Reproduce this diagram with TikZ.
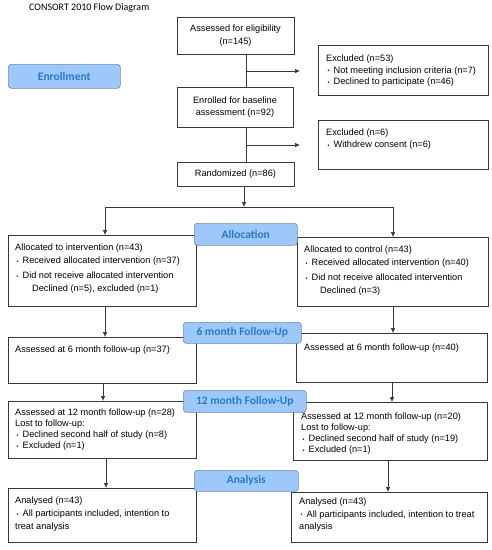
\documentclass[tikz,border=0pt]{standalone}
\usepackage{fontspec}
\setmainfont{Liberation Sans}
\newfontfamily\calibrifont{Carlito}
\usetikzlibrary{arrows.meta}
\definecolor{lblfill}{RGB}{157,200,249}
\definecolor{lbldraw}{RGB}{115,135,165}
\definecolor{lbltext}{RGB}{40,122,198}
\definecolor{boxdraw}{RGB}{55,55,55}
\newcommand{\mybul}{\hspace*{1.5pt}{\fontsize{5.5}{5.5}\selectfont\raisebox{0.8pt}{•}}\hspace{4pt}}
\tikzset{
  box/.style={draw=boxdraw, line width=0.7pt, fill=white, inner sep=0pt, outer sep=0pt, anchor=north west},
  lbl/.style={draw=lbldraw, fill=lblfill, rounded corners=3pt, line width=0.6pt, inner sep=0pt, anchor=north west},
  lbltxt/.style={text=lbltext, font=\calibrifont\bfseries\fontsize{11.5}{13}\selectfont, inner sep=0pt},
  txt/.style={inner sep=0pt, anchor=north west, align=left},
  ctxt/.style={inner sep=0pt, align=center, font=\fontsize{9.2}{12.5}\selectfont},
  arr/.style={-{Latex[length=5pt,width=4.5pt]}, line width=0.7pt, draw=boxdraw},
  ln/.style={line width=0.7pt, draw=boxdraw},
}
\begin{document}
\begin{tikzpicture}[x=1pt,y=-1pt]
\useasboundingbox (0,0) rectangle (492,550);
% title
\node[inner sep=0pt, anchor=west, font=\calibrifont\fontsize{10}{12}\selectfont] (title) at (29,8) {CONSORT 2010 Flow Diagram};
% boxes
\node[box, minimum width=117, minimum height=37] (assessed) at (177,17) {};
\node[ctxt] (assessedt) at (assessed.center) {Assessed for eligibility\\(n=145)};
\node[box, minimum width=170, minimum height=50] (excl1) at (318,45) {};
\node[txt, font=\fontsize{9.2}{11.5}\selectfont] (excl1t) at (326,55) {Excluded (n=53)\\\mybul Not meeting inclusion criteria (n=7)\\\mybul Declined to participate (n=46)};
\node[box, minimum width=116, minimum height=40] (enrolled) at (177,87) {};
\node[ctxt] (enrolledt) at (enrolled.center) {Enrolled for baseline\\assessment (n=92)};
\node[box, minimum width=170, minimum height=49] (excl2) at (318,120) {};
\node[txt, font=\fontsize{9.2}{12}\selectfont] (excl2t) at (326,129) {Excluded (n=6)\\\mybul Withdrew consent (n=6)};
\node[box, minimum width=117, minimum height=24] (random) at (177,162) {};
\node[ctxt] (randomt) at (random.center) {Randomized (n=86)};
% allocation
\node[box, minimum width=188, minimum height=71] (allocL) at (8,235) {};
\node[txt, font=\fontsize{9.2}{13}\selectfont] (allocLt) at (15,244) {Allocated to intervention (n=43)\\\mybul Received allocated intervention (n=37)\\[2pt]\mybul Did not receive allocated intervention\\\hspace*{17pt}Declined (n=5), excluded (n=1)};
\node[box, minimum width=191, minimum height=69] (allocR) at (297,237) {};
\node[txt, font=\fontsize{9.2}{13}\selectfont] (allocRt) at (304,246) {Allocated to control (n=43)\\\mybul Received allocated intervention (n=40)\\[2pt]\mybul Did not receive allocated intervention\\\hspace*{16pt}Declined (n=3)};
% 6 month
\node[box, minimum width=188, minimum height=46] (sixL) at (8,337) {};
\node[txt, font=\fontsize{9.2}{12}\selectfont] (sixLt) at (15,346) {Assessed at 6 month follow-up (n=37)};
\node[box, minimum width=191, minimum height=49] (sixR) at (296,333) {};
\node[txt, font=\fontsize{9.2}{12}\selectfont] (sixRt) at (304,344) {Assessed at 6 month follow-up (n=40)};
% 12 month
\node[box, minimum width=188, minimum height=57] (twL) at (8,401) {};
\node[txt, font=\fontsize{9.2}{11}\selectfont] (twLt) at (15,409) {Assessed at 12 month follow-up (n=28)\\Lost to follow-up:\\\mybul Declined second half of study (n=8)\\\mybul Excluded (n=1)};
\node[box, minimum width=194, minimum height=58] (twR) at (293,402) {};
\node[txt, font=\fontsize{9.2}{11}\selectfont] (twRt) at (301,413) {Assessed at 12 month follow-up (n=20)\\Lost to follow-up:\\\mybul Declined second half of study (n=19)\\\mybul Excluded (n=1)};
% analysis
\node[box, minimum width=188, minimum height=54] (anL) at (8,488) {};
\node[txt, font=\fontsize{9.2}{13}\selectfont] (anLt) at (15,497) {Analysed (n=43)\\\mybul All participants included, intention to\\treat analysis};
\node[box, minimum width=196, minimum height=50] (anR) at (291,492) {};
\node[txt, font=\fontsize{9.2}{12.5}\selectfont] (anRt) at (299,498) {Analysed (n=43)\\\mybul All participants included, intention to treat\\analysis};
% connectors
\coordinate (v1) at (246,0);
\coordinate (ex1end) at (300,71);
\coordinate (ex2end) at (300,145);
\coordinate (rv) at (244,207);
\coordinate (hl) at (105,207);
\coordinate (hr) at (393,207);
\draw[ln] (assessed.south -| v1) -- (enrolled.north -| v1);
\draw[arr] (ex1end -| v1) -- (ex1end);
\draw[ln] (enrolled.south -| v1) -- (random.north -| v1);
\draw[arr] (ex2end -| v1) -- (ex2end);
\draw[arr] (random.south -| rv) -- (rv);
\draw[ln] (hl) -- (hr);
\draw[arr] (hl) -- (hl |- allocL.north);
\draw[arr] (hr) -- (hr |- allocR.north);
\coordinate (cL1) at (105,0);
\coordinate (cR1) at (393,0);
\coordinate (cL2) at (103,0);
\coordinate (cR2) at (392,0);
\coordinate (cL3) at (106,0);
\coordinate (cR3) at (388,0);
\draw[arr] (allocL.south -| cL1) -- (sixL.north -| cL1);
\draw[arr] (allocR.south -| cR1) -- (sixR.north -| cR1);
\draw[arr] (sixL.south -| cL2) -- (twL.north -| cL2);
\draw[arr] (sixR.south -| cR2) -- (twR.north -| cR2);
\draw[arr] (twL.south -| cL3) -- (anL.north -| cL3);
\draw[arr] (twR.south -| cR3) -- (anR.north -| cR3);
% stage labels
\node[lbl, minimum width=112, minimum height=24] (enrl) at (8,64) {};
\node[lbltxt] (enrlt) at (enrl.center) {Enrollment};
\node[lbl, minimum width=103, minimum height=22] (allocl) at (194,223) {};
\node[lbltxt] (alloclt) at (allocl.center) {Allocation};
\node[lbl, minimum width=118, minimum height=21] (sixl) at (183,322) {};
\node[lbltxt] (sixlt) at (sixl.center) {6 month Follow-Up};
\node[lbl, minimum width=123, minimum height=22] (twl) at (183,390) {};
\node[lbltxt] (twlt) at (twl.center) {12 month Follow-Up};
\node[lbl, minimum width=104, minimum height=21] (anl) at (194,470) {};
\node[lbltxt] (anlt) at (anl.center) {Analysis};
\end{tikzpicture}
\end{document}
